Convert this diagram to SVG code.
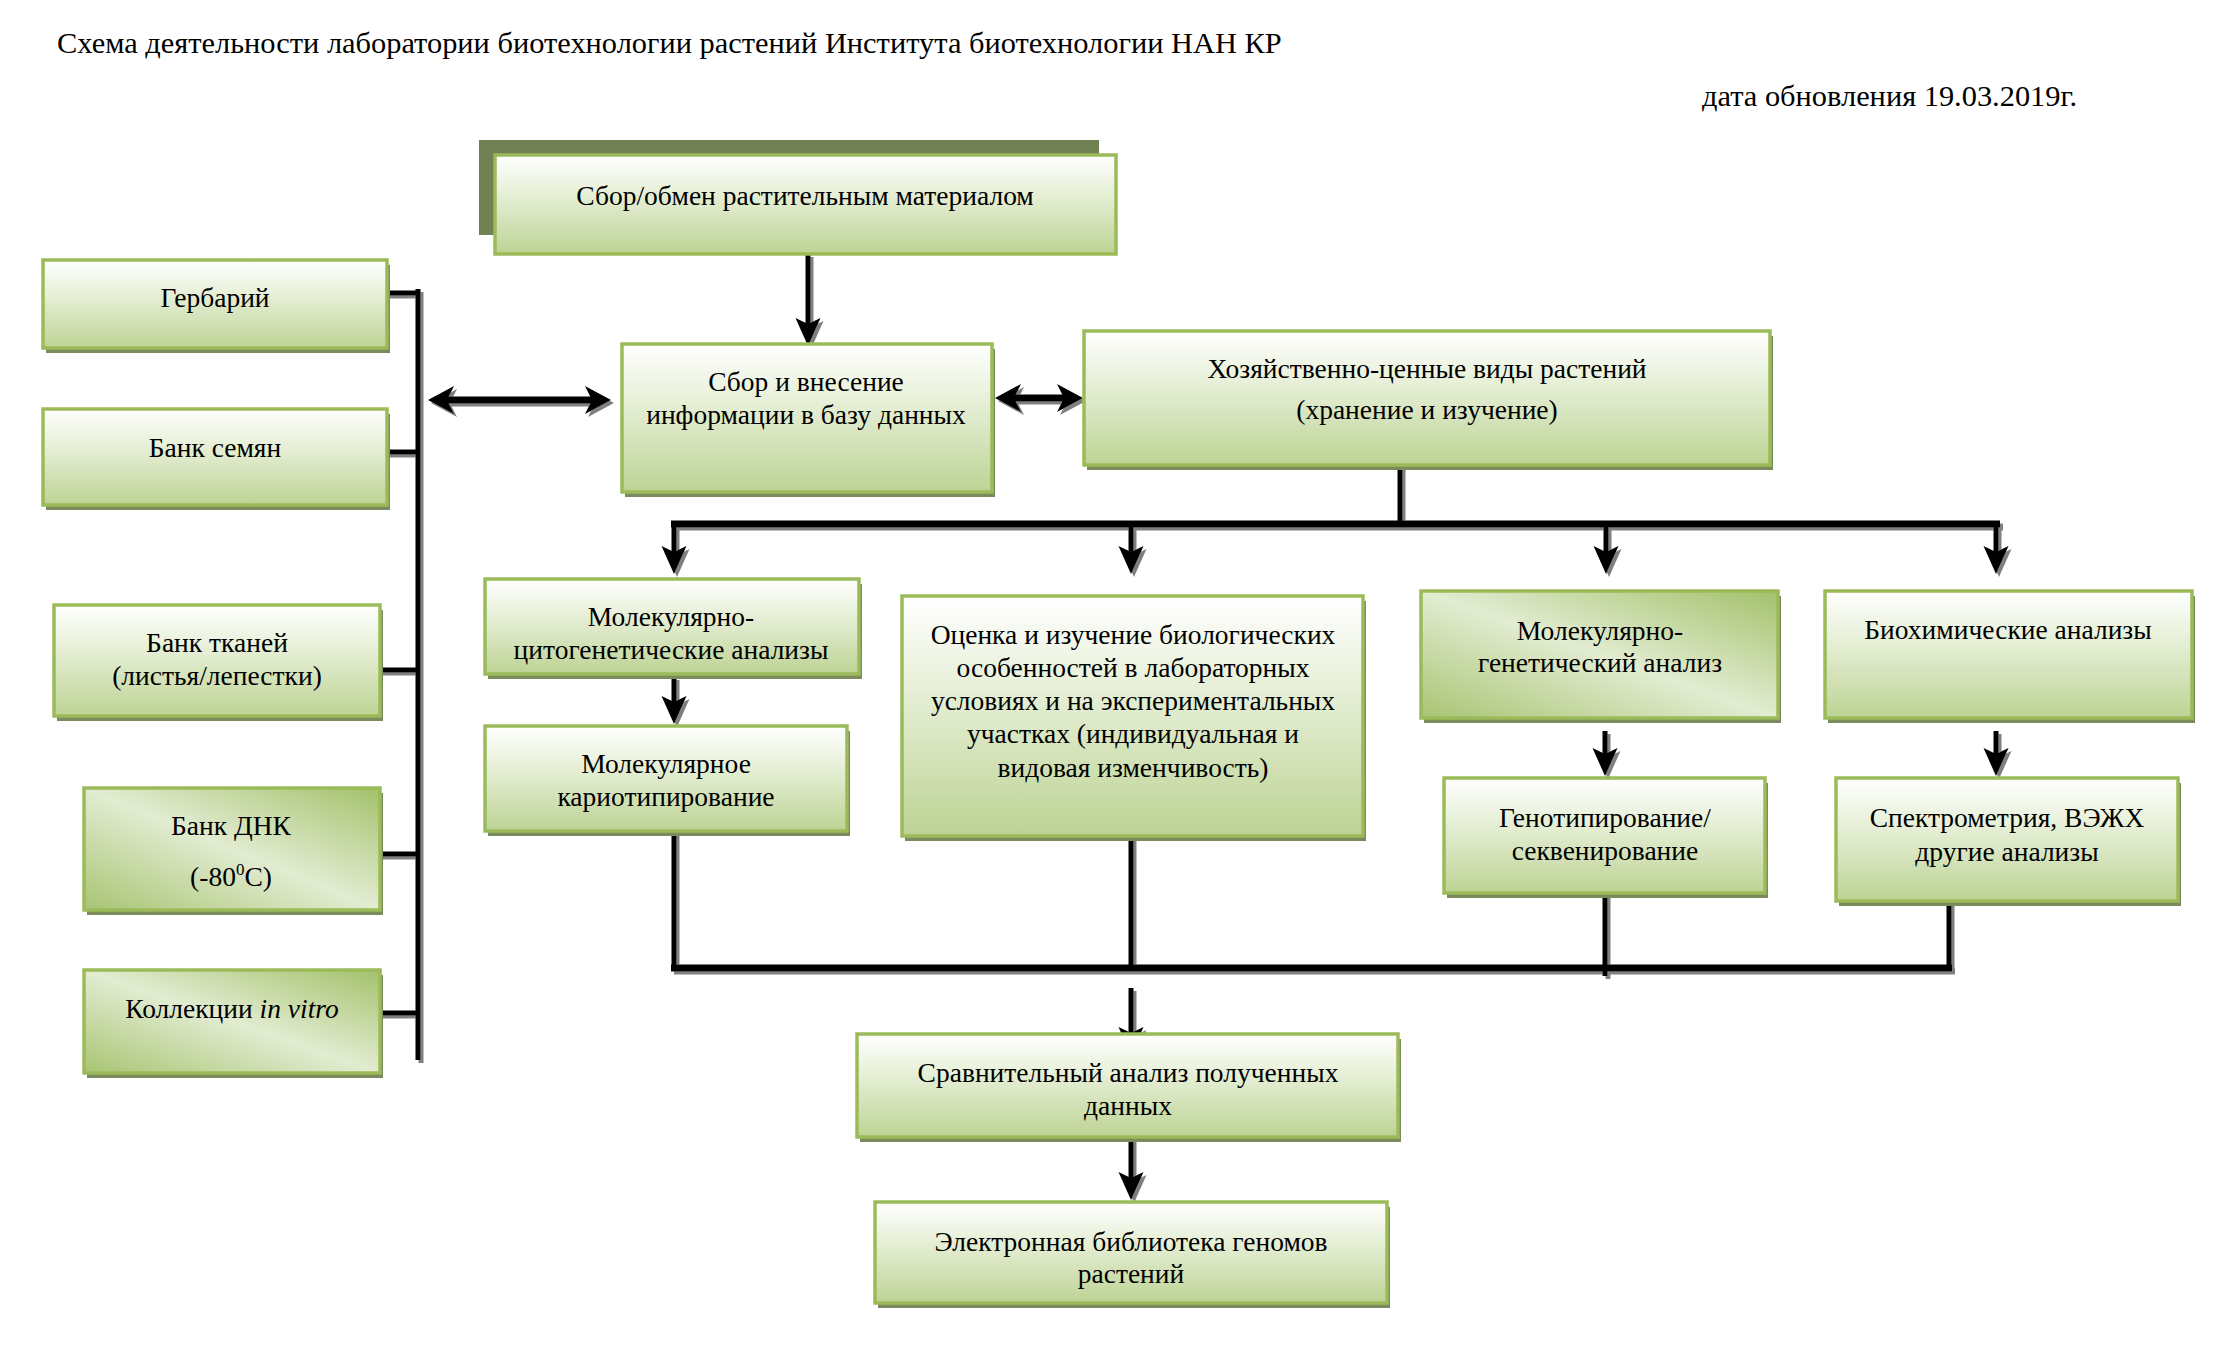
<svg xmlns="http://www.w3.org/2000/svg" width="2237" height="1353" viewBox="0 0 2237 1353">
<style>
text{font-family:"Liberation Serif","Times New Roman",serif;fill:#000}
.t{font-size:27.5px;text-anchor:middle}
.hd{font-size:30.4px}
.box{stroke:#9bbb59;stroke-width:3.5;fill:url(#gv)}
.diag{fill:url(#gd)}
.sh{fill:#7a8b5d}
.w{fill:none;stroke:#000;stroke-width:5}
.bus{stroke-width:7}
.arr{marker-end:url(#ah)}
.dbl{stroke-width:7;marker-start:url(#ah2);marker-end:url(#ah2)}
</style>
<defs>
<linearGradient id="gv" x1="0" y1="0" x2="0" y2="1">
<stop offset="0" stop-color="#ffffff"/>
<stop offset="0.4" stop-color="#e6efd6"/>
<stop offset="1" stop-color="#bdd394"/>
</linearGradient>
<linearGradient id="gd" x1="1" y1="0" x2="0" y2="1">
<stop offset="0" stop-color="#a3c16b"/>
<stop offset="0.5" stop-color="#e2ecd1"/>
<stop offset="1" stop-color="#a8c473"/>
</linearGradient>
<marker id="ah" markerUnits="userSpaceOnUse" viewBox="-2 -16 34 32" markerWidth="34" markerHeight="32" refX="8" refY="0" orient="auto-start-reverse" overflow="visible">
<path d="M0,-12.5 L28,0 L0,12.5 L6,0 Z" fill="#000"/>
</marker>
<marker id="ah2" markerUnits="userSpaceOnUse" viewBox="-2 -18 32 36" markerWidth="32" markerHeight="36" refX="9" refY="0" orient="auto-start-reverse" overflow="visible">
<path d="M0,-14 L26,0 L0,14 L7,0 Z" fill="#000"/>
</marker>
<filter id="dsh" filterUnits="userSpaceOnUse" x="0" y="0" width="2237" height="1353">
<feDropShadow dx="3" dy="3" stdDeviation="0.6" flood-color="#7f7f7f" flood-opacity="1"/>
</filter>
</defs>
<rect width="2237" height="1353" fill="#fff"/>
<text class="hd" x="57" y="53">Схема деятельности лаборатории биотехнологии растений Института биотехнологии НАН КР</text>
<text class="hd" x="1702" y="106">дата обновления 19.03.2019г.</text>

<g id="connectors" filter="url(#dsh)">
<path class="w" d="M418,289 V1060"/>
<path class="w" stroke-width="8" d="M387,293 H420 M387,452 H420 M380,670 H420 M380,854 H420 M380,1013 H420"/>
<path class="w dbl" d="M445,400 H594"/>
<path class="w dbl" d="M1012,398 H1066"/>
<path class="w arr" stroke-width="4" d="M808,254 V326"/>
<path class="w" d="M1400,465 V526"/>
<path class="w bus" d="M671,524 H2000"/>
<path class="w arr" d="M674,524 V554"/>
<path class="w arr" d="M1131,524 V554"/>
<path class="w arr" d="M1606,524 V554"/>
<path class="w arr" d="M1996,524 V554"/>
<path class="w arr" d="M674,677 V704"/>
<path class="w arr" d="M1605,731 V756"/>
<path class="w arr" d="M1996,731 V756"/>
<path class="w" d="M674,831 V970 M1131,836 V968 M1605,893 V976 M1949,901 V970"/>
<path class="w bus" d="M671,968 H1952"/>
<path class="w arr" d="M1131,988 V1035"/>
<path class="w arr" d="M1131,1139 V1180"/>
</g>

<g id="n-sbor-obmen">
<rect x="479" y="140" width="620" height="95" fill="#718153"/>
<rect class="box" x="495" y="155" width="621" height="99"/>
<text class="t" x="805" y="205">Сбор/обмен растительным материалом</text>
</g>
<g id="n-gerbariy">
<rect class="sh" x="46" y="265" width="344" height="88"/>
<rect class="box" x="43" y="260" width="344" height="88"/>
<text class="t" x="215" y="307">Гербарий</text>
</g>
<g id="n-bank-semyan">
<rect class="sh" x="46" y="414" width="344" height="96"/>
<rect class="box" x="43" y="409" width="344" height="96"/>
<text class="t" x="215" y="457">Банк семян</text>
</g>
<g id="n-sbor-vnesenie">
<rect class="sh" x="625" y="349" width="370" height="148"/>
<rect class="box" x="622" y="344" width="370" height="148"/>
<text class="t" x="806" y="391">Сбор и внесение</text>
<text class="t" x="806" y="424">информации в базу данных</text>
</g>
<g id="n-hoz">
<rect class="sh" x="1087" y="336" width="686" height="134"/>
<rect class="box" x="1084" y="331" width="686" height="134"/>
<text class="t" x="1427" y="378">Хозяйственно-ценные виды растений</text>
<text class="t" x="1427" y="419">(хранение и изучение)</text>
</g>
<g id="n-bank-tkaney">
<rect class="sh" x="57" y="610" width="326" height="111"/>
<rect class="box" x="54" y="605" width="326" height="111"/>
<text class="t" x="217" y="652">Банк тканей</text>
<text class="t" x="217" y="685">(листья/лепестки)</text>
</g>
<g id="n-bank-dnk">
<rect class="sh" x="87" y="793" width="296" height="122"/>
<rect class="box diag" x="84" y="788" width="296" height="122"/>
<text class="t" x="231" y="835">Банк ДНК</text>
<text class="t" x="231" y="886">(-80<tspan font-size="17" dy="-11">0</tspan><tspan dy="11">C)</tspan></text>
</g>
<g id="n-kollekcii">
<rect class="sh" x="87" y="975" width="296" height="103"/>
<rect class="box diag" x="84" y="970" width="296" height="103"/>
<text class="t" x="232" y="1018">Коллекции <tspan font-style="italic">in vitro</tspan></text>
</g>
<g id="n-mol-cit">
<rect class="sh" x="488" y="584" width="374" height="95"/>
<rect class="box" x="485" y="579" width="374" height="95"/>
<text class="t" x="671" y="626">Молекулярно-</text>
<text class="t" x="671" y="659">цитогенетические анализы</text>
</g>
<g id="n-kariotip">
<rect class="sh" x="488" y="731" width="362" height="105"/>
<rect class="box" x="485" y="726" width="362" height="105"/>
<text class="t" x="666" y="773">Молекулярное</text>
<text class="t" x="666" y="806">кариотипирование</text>
</g>
<g id="n-ocenka">
<rect class="sh" x="905" y="601" width="461" height="240"/>
<rect class="box" x="902" y="596" width="461" height="240"/>
<text class="t" x="1133" y="644">Оценка и изучение биологических</text>
<text class="t" x="1133" y="677">особенностей в лабораторных</text>
<text class="t" x="1133" y="710">условиях и на экспериментальных</text>
<text class="t" x="1133" y="743">участках (индивидуальная и</text>
<text class="t" x="1133" y="777">видовая изменчивость)</text>
</g>
<g id="n-mol-gen">
<rect class="sh" x="1424" y="596" width="357" height="127"/>
<rect class="box diag" x="1421" y="591" width="357" height="127"/>
<text class="t" x="1600" y="640">Молекулярно-</text>
<text class="t" x="1600" y="672">генетический анализ</text>
</g>
<g id="n-biohim">
<rect class="sh" x="1828" y="596" width="367" height="127"/>
<rect class="box" x="1825" y="591" width="367" height="127"/>
<text class="t" x="2008" y="639">Биохимические анализы</text>
</g>
<g id="n-genotip">
<rect class="sh" x="1447" y="783" width="321" height="115"/>
<rect class="box" x="1444" y="778" width="321" height="115"/>
<text class="t" x="1605" y="827">Генотипирование/</text>
<text class="t" x="1605" y="860">секвенирование</text>
</g>
<g id="n-spektr">
<rect class="sh" x="1839" y="783" width="342" height="123"/>
<rect class="box" x="1836" y="778" width="342" height="123"/>
<text class="t" x="2007" y="827">Спектрометрия, ВЭЖХ</text>
<text class="t" x="2007" y="861">другие анализы</text>
</g>
<g id="n-sravn">
<rect class="sh" x="860" y="1039" width="541" height="103"/>
<rect class="box" x="857" y="1034" width="541" height="103"/>
<text class="t" x="1128" y="1082">Сравнительный анализ полученных</text>
<text class="t" x="1128" y="1115">данных</text>
</g>
<g id="n-elektr">
<rect class="sh" x="878" y="1207" width="512" height="101"/>
<rect class="box" x="875" y="1202" width="512" height="101"/>
<text class="t" x="1131" y="1251">Электронная библиотека геномов</text>
<text class="t" x="1131" y="1283">растений</text>
</g>
</svg>
